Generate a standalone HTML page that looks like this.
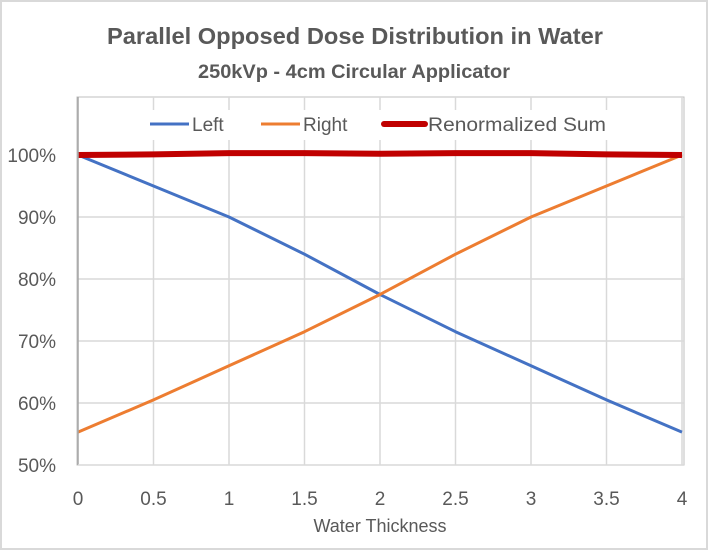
<!DOCTYPE html>
<html><head><meta charset="utf-8"><style>
body{margin:0;background:#fff;}
svg{display:block;font-family:"Liberation Sans",sans-serif;}
</style></head><body>
<svg id="chart" width="709" height="551">
<rect x="1" y="1" width="706" height="548" fill="#fff" stroke="#d9d9d9" stroke-width="2"/>
<text x="355" y="44" text-anchor="middle" font-size="23" font-weight="bold" fill="#595959" textLength="496" lengthAdjust="spacingAndGlyphs">Parallel  Opposed Dose Distribution in Water</text>
<text x="354" y="78" text-anchor="middle" font-size="19" font-weight="bold" fill="#595959" textLength="312" lengthAdjust="spacingAndGlyphs">250kVp - 4cm Circular Applicator</text>
<rect x="77" y="97" width="607" height="368" fill="#fff" stroke="#bfbfbf" stroke-width="1"/>
<g id="grid"></g>
<rect x="140" y="110" width="480" height="30" fill="#fff"/>
<g id="series"></g>
<g id="axes"></g>
<g>
<line x1="150" y1="124" x2="189" y2="124" stroke="#4472c4" stroke-width="3"/>
<text x="192" y="131" font-size="19" fill="#595959">Left</text>
<line x1="261" y1="124" x2="300" y2="124" stroke="#ed7d31" stroke-width="3"/>
<text x="303" y="131" font-size="19" fill="#595959">Right</text>
<line x1="384" y1="124" x2="425" y2="124" stroke="#c00000" stroke-width="6" stroke-linecap="round"/>
<text x="428" y="131" font-size="19" fill="#595959" textLength="178" lengthAdjust="spacingAndGlyphs">Renormalized Sum</text>
</g>
<text x="380" y="532" text-anchor="middle" font-size="18" fill="#595959">Water Thickness</text>
</svg>
<script>
const xValues=[0,0.5,1,1.5,2,2.5,3,3.5,4];
const leftValues=[100,95,90,84,77.5,71.5,66,60.5,55.3];
const rightValues=[55.3,60.5,66,71.5,77.5,84,90,95,100];
const sumValues=[100,100.1,100.3,100.3,100.2,100.3,100.3,100.1,100];
const yTicks=[50,60,70,80,90,100];
const yTickLabels=["50%","60%","70%","80%","90%","100%"];
const xTicks=[0,0.5,1,1.5,2,2.5,3,3.5,4];
const xTickLabels=["0","0.5","1","1.5","2","2.5","3","3.5","4"];
const NS="http://www.w3.org/2000/svg";
const sx=v=>78+v*(682-78)/4;
const sy=v=>465-(v-50)*(465-155)/50;
function mk(tag,attrs,parent){const e=document.createElementNS(NS,tag);for(const k in attrs)e.setAttribute(k,attrs[k]);parent.appendChild(e);return e;}
const grid=document.getElementById('grid'),axes=document.getElementById('axes'),series=document.getElementById('series');
yTicks.forEach((t,i)=>{
  if(t>50){const l=mk('line',{x1:78,x2:684,y1:sy(t),y2:sy(t),stroke:'#d9d9d9','stroke-width':1.5},grid);
  
  }
  const tx=mk('text',{x:56,y:sy(t)+7,'text-anchor':'end','font-size':19,fill:'#595959'},axes);
  tx.textContent=yTickLabels[i];
  
  
});
xTicks.forEach((t,i)=>{
  if(t>0){const l=mk('line',{x1:sx(t),x2:sx(t),y1:97,y2:465,stroke:'#d9d9d9','stroke-width':1.5},grid);
  
  }
  const tx=mk('text',{x:sx(t),y:505,'text-anchor':'middle','font-size':19,fill:'#595959'},axes);
  tx.textContent=xTickLabels[i];
  
  
});
const ax=mk('line',{x1:78,x2:78,y1:97,y2:465,stroke:'#a6a6a6','stroke-width':1.5},axes);


const bx=mk('line',{x1:78,x2:684,y1:465,y2:465,stroke:'#d9d9d9','stroke-width':1.5},axes);


function line(vals,color,w,name){
  const p=mk('polyline',{points:vals.map((v,i)=>sx(xValues[i])+','+sy(v)).join(' '),fill:'none',stroke:color,'stroke-width':w,'stroke-linejoin':'round'},series);
  
  
}
line(leftValues,'#4472c4',3,'left-line');
line(rightValues,'#ed7d31',3,'right-line');
line(sumValues,'#c00000',6,'renormalized-sum-line');
</script>
</body></html>
